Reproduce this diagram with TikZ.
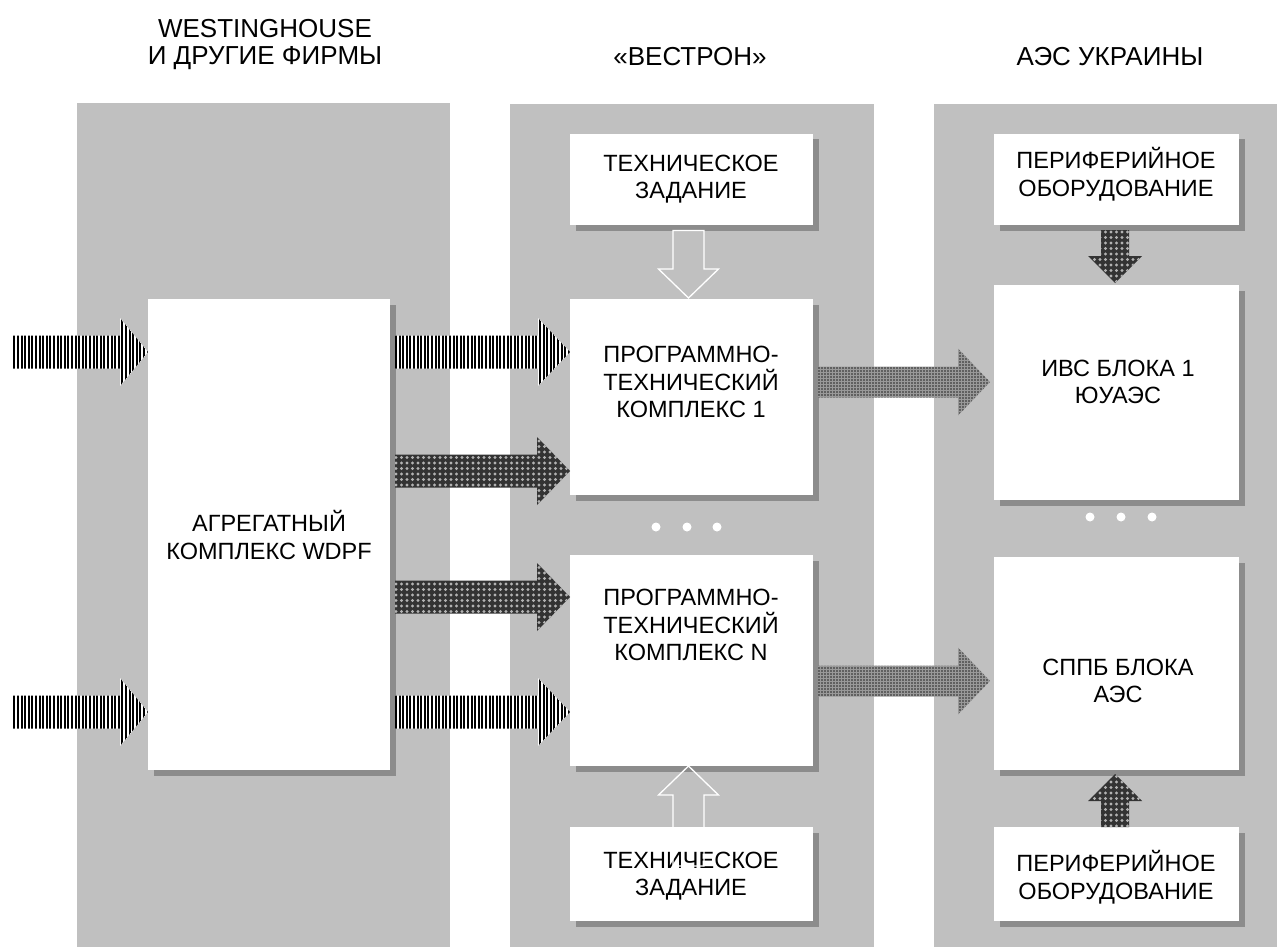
\documentclass[tikz,border=0pt]{standalone}
\usepackage{fontspec}
\setmainfont{Liberation Sans}
\usetikzlibrary{calc,patterns.meta,shadows}

\definecolor{panelc}{RGB}{192,192,192}
\definecolor{shadowc}{RGB}{140,140,140}

\tikzset{
  panelbox/.style={fill=panelc, draw=none},
  wbox/.style={fill=white, draw=none, inner sep=0pt, outer sep=0pt,
    drop shadow={shadow xshift=6pt, shadow yshift=-5.5pt, fill=shadowc, opacity=1}},
  lbl/.style={align=center, font=\fontsize{23.5}{27.5}\selectfont, inner sep=0pt},
  hdr/.style={align=center, font=\fontsize{26}{27}\selectfont, inner sep=0pt},
  striped/.style={preaction={fill=white},
    pattern={Lines[angle=90,distance=3.6pt,line width=1.9pt]}, pattern color=black},
  crossed/.style={preaction={fill=black!80},
    pattern={Dots[distance=5.5pt,radius=1.7pt]}, pattern color=black!30},
  dotted/.style={preaction={fill=black!40},
    pattern={Dots[distance=3pt,radius=0.8pt]}, pattern color=black!85},
  hollow/.style={draw=white, line width=1.3pt, line join=miter},
  dotw/.style={circle, fill=white, minimum size=9pt, inner sep=0pt},
}

% #1 style, #2 from, #3 to, #4 half shaft, #5 half head, #6 head length
\newcommand\blockarrow[6]{%
  \coordinate (hb) at ($(#3)!#6!(#2)$);
  \path[#1] ($(#2)!#4!90:(#3)$) -- ($(hb)!#4!90:(#3)$) -- ($(hb)!#5!90:(#3)$)
    -- (#3) -- ($(hb)!#5!-90:(#3)$) -- ($(hb)!#4!-90:(#3)$)
    -- ($(#2)!#4!-90:(#3)$) -- cycle;
}

\begin{document}
\begin{tikzpicture}[x=1pt,y=-1pt]
\useasboundingbox (0,0) rectangle (1277,947);

% panels
\path[panelbox] (77,103) rectangle (450,947);
\path[panelbox] (510,104) rectangle (874,947);
\path[panelbox] (934,104) rectangle (1277,947);

% headers
\node[hdr] (h1) at (265,44.5) {WESTINGHOUSE\\И ДРУГИЕ ФИРМЫ};
\node[hdr] (h2) at (690,57) {«ВЕСТРОН»};
\node[hdr] (h3) at (1110,57) {АЭС УКРАИНЫ};

% boxes
\node[wbox, minimum width=242pt, minimum height=471pt] (big) at (269,534.5) {};
\node[wbox, minimum width=243pt, minimum height=91pt] (tz1) at (691.5,179.5) {};
\node[wbox, minimum width=243pt, minimum height=196pt] (prog1) at (691.5,397) {};
\node[wbox, minimum width=243pt, minimum height=211pt] (progN) at (691.5,660.5) {};
\node[wbox, minimum width=243pt, minimum height=94pt] (tz2) at (691.5,874) {};
\node[wbox, minimum width=245pt, minimum height=91pt] (per1) at (1116.5,179.5) {};
\node[wbox, minimum width=245pt, minimum height=215pt] (ivs) at (1116.5,392.5) {};
\node[wbox, minimum width=245pt, minimum height=213pt] (sppb) at (1116.5,663.5) {};
\node[wbox, minimum width=245pt, minimum height=94pt] (per2) at (1116.5,874) {};

% texts
\node[lbl] (bigt) at (269,535) {АГРЕГАТНЫЙ\\КОМПЛЕКС WDPF};
\node[lbl] (tz1t) at (691,179) {ТЕХНИЧЕСКОЕ\\ЗАДАНИЕ};
\node[lbl] (prog1t) at (691,382) {ПРОГРАММНО-\\ТЕХНИЧЕСКИЙ\\КОМПЛЕКС 1};
\node[lbl] (progNt) at (691,625) {ПРОГРАММНО-\\ТЕХНИЧЕСКИЙ\\КОМПЛЕКС N};
\node[lbl] (tz2t) at (691,876) {ТЕХНИЧЕСКОЕ\\ЗАДАНИЕ};
\node[lbl] (per1t) at (1116,174) {ПЕРИФЕРИЙНОЕ\\ОБОРУДОВАНИЕ};
\node[lbl] (ivst) at (1118,382) {ИВС БЛОКА 1\\ЮУАЭС};
\node[lbl] (sppbt) at (1118,681) {СППБ БЛОКА\\АЭС};
\node[lbl] (per2t) at (1116,877) {ПЕРИФЕРИЙНОЕ\\ОБОРУДОВАНИЕ};

% ellipsis dots
\node[dotw] (e1) at (656,527) {};
\node[dotw] (e2) at (687,527) {};
\node[dotw] (e3) at (717,527) {};
\node[dotw] (e4) at (1090,517) {};
\node[dotw] (e5) at (1121,517) {};
\node[dotw] (e6) at (1152,517) {};

% input arrows (free ends)
\coordinate (in1) at (12,352);
\coordinate (in2) at (12,712);
\blockarrow{striped}{in1}{big.west |- in1}{16.5pt}{34pt}{28pt}
\blockarrow{striped}{in2}{big.west |- in2}{16.5pt}{34pt}{28pt}

% big -> program complexes
\coordinate (o1) at (395,352);
\coordinate (o2) at (395,471);
\coordinate (o3) at (395,597);
\coordinate (o4) at (395,712);
\blockarrow{striped}{o1}{prog1.west |- o1}{16.5pt}{34pt}{32pt}
\blockarrow{crossed}{o2}{prog1.west |- o2}{16.5pt}{34pt}{33pt}
\blockarrow{crossed}{o3}{progN.west |- o3}{16.5pt}{34pt}{33pt}
\blockarrow{striped}{o4}{progN.west |- o4}{16.5pt}{34pt}{32pt}

% program complexes -> plant systems
\coordinate (p1) at (818,382);
\coordinate (p2) at (818,681);
\blockarrow{dotted}{p1}{$(ivs.west |- p1)+(-4,0)$}{15.5pt}{33.5pt}{32pt}
\blockarrow{dotted}{p2}{$(sppb.west |- p2)+(-4,0)$}{15.5pt}{33.5pt}{32pt}

% peripheral equipment arrows
\blockarrow{crossed}{$(per1.south)+(-1.5,5)$}{$(ivs.north)+(-1.5,-2)$}{14pt}{27pt}{27pt}
\blockarrow{crossed}{$(per2.north)+(-1.5,0)$}{$(sppb.south)+(-1.5,4)$}{14pt}{27pt}{27pt}

% technical specification arrows (hollow)
\blockarrow{hollow}{$(tz1.south)+(-3,5.5)$}{$(prog1.north)+(-3,-1)$}{15.5pt}{30pt}{29pt}
\blockarrow{hollow}{$(tz2.north)+(-3,39)$}{$(progN.south)+(-3,0)$}{15.5pt}{30pt}{29pt}
\end{tikzpicture}
\end{document}
